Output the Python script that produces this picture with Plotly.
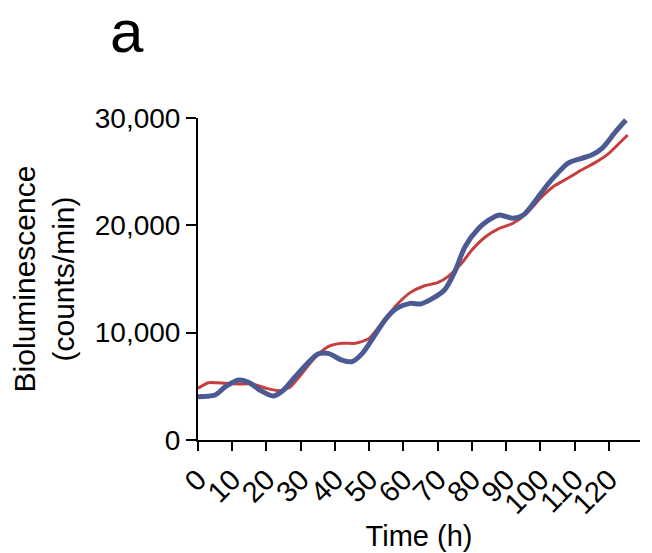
import plotly.graph_objects as go

time_blue = [0, 5, 8, 12, 15, 18, 22, 25, 28, 32, 35, 38, 42, 45, 48, 52, 55, 58, 62, 65,
             68, 72, 75, 78, 82, 85, 88, 92, 95, 98, 102, 105, 108, 112, 115, 118, 122, 125]
lum_blue = [4040, 4190, 4970, 5590, 5340, 4660, 4100, 4660, 5750, 7140, 8010, 8070, 7450, 7300,
            8070, 9940, 11340, 12270, 12730, 12670, 13100, 13980, 15680, 18010, 19720, 20500,
            20960, 20650, 20960, 22050, 23760, 24840, 25780, 26240, 26550, 27170, 28730, 29810]

time_red = [0, 3, 8, 12, 16, 20, 24, 27, 30, 34, 38, 42, 46, 50, 54, 58, 62, 66, 70, 73,
            77, 80, 84, 88, 92, 96, 100, 104, 108, 112, 116, 120, 124, 125.5]
lum_red = [4810, 5340, 5280, 5220, 5220, 4810, 4600, 4970, 6060, 7610, 8700, 9010, 9010, 9470,
           11020, 12580, 13730, 14350, 14660, 15220, 16460, 17700, 18940, 19720, 20190, 21120,
           22520, 23660, 24380, 25150, 25840, 26710, 27950, 28420]

x_ticks = list(range(0, 121, 10))
y_ticks = [0, 10000, 20000, 30000]

FONT = "Arial, Liberation Sans, sans-serif"

W, H = 652, 553
ML, MR, MT, MB = 190, 20, 110, 121
PW, PH = W - ML - MR, H - MT - MB

fig = go.Figure()
fig.add_trace(go.Scatter(x=time_red, y=lum_red, mode="lines",
                         line=dict(color="#C63F3F", width=3, shape="spline", smoothing=0.6),
                         showlegend=False))
fig.add_trace(go.Scatter(x=time_blue, y=lum_blue, mode="lines",
                         line=dict(color="#4B5A92", width=5, shape="spline", smoothing=0.8),
                         showlegend=False))

fig.update_layout(
    width=W, height=H,
    margin=dict(l=ML, r=MR, t=MT, b=MB, autoexpand=False),
    plot_bgcolor="white", paper_bgcolor="white",
    font=dict(family=FONT, color="black"),
    xaxis=dict(range=[0, 129.1], tickvals=x_ticks, ticktext=[str(v) for v in x_ticks],
               tickangle=-45, tickfont=dict(size=29),
               showline=True, linecolor="black", linewidth=2,
               ticks="outside", ticklen=9, tickwidth=2, tickcolor="black",
               showgrid=False, zeroline=False,
               title=dict(text="Time (h)", font=dict(size=29), standoff=7)),
    yaxis=dict(range=[0, 30000], tickvals=y_ticks, tickformat=",d",
               tickfont=dict(size=28),
               showline=True, linecolor="black", linewidth=2,
               ticks="outside", ticklen=10, tickwidth=2, tickcolor="black",
               showgrid=False, zeroline=False,
               title=dict(text="Bioluminescence<br>(counts/min)", font=dict(size=30), standoff=14)),
    annotations=[dict(text="a", showarrow=False, xref="paper", yref="paper",
                      x=(100 - ML) / PW, y=1 + (MT + 12) / PH,
                      font=dict(size=60, family=FONT), xanchor="left", yanchor="top")],
)

fig.write_html("out.html")
